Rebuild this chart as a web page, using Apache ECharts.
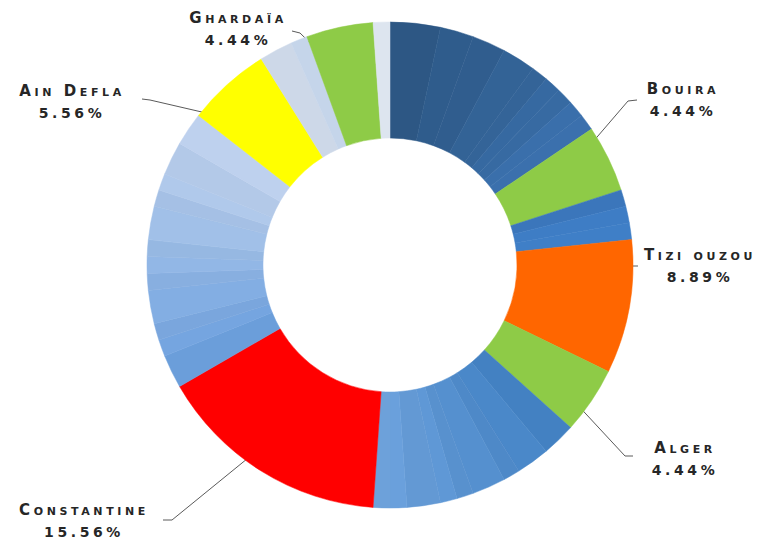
<!DOCTYPE html>
<html><head><meta charset="utf-8">
<script src="https://cdn.jsdelivr.net/npm/echarts@6/dist/echarts.min.js"></script>
<style>
html,body{margin:0;padding:0;background:#fff;}
#chart{width:760px;height:540px;}
#chart text{font-variant:small-caps !important;letter-spacing:3.6px !important;}
</style></head><body><div id="chart"></div>
<script>
// ---- data (clockwise from 12 o'clock) ----
const categories = [
  'Wilaya 01','Wilaya 02','Wilaya 03','Wilaya 04','Wilaya 05','Wilaya 06','Wilaya 07','Wilaya 08','Wilaya 09',
  'Bouira',
  'Wilaya 10','Wilaya 11','Wilaya 12',
  'Tizi ouzou',
  'Alger',
  'Wilaya 13','Wilaya 14','Wilaya 15','Wilaya 16','Wilaya 17','Wilaya 18','Wilaya 19','Wilaya 20','Wilaya 21',
  'Constantine',
  'Wilaya 22','Wilaya 23','Wilaya 24','Wilaya 25','Wilaya 26','Wilaya 27','Wilaya 28','Wilaya 29','Wilaya 30','Wilaya 31','Wilaya 32','Wilaya 33',
  'Ain Defla',
  'Wilaya 34','Wilaya 35',
  'Ghardaïa',
  'Wilaya 36'
];
const values = [
  3,2,2,2,1,1,1,1,1,
  4,
  1,1,1,
  8,
  4,
  2,2,1,2,1,1,2,1,1,
  14,
  2,1,1,2,1,1,1,2,1,1,2,2,
  5,
  2,1,
  4,
  1
];
const labelledNames = ['Ghardaïa','Bouira','Tizi ouzou','Alger','Constantine','Ain Defla'];

// ---- styling ----
const tones = [
  'dark','dark','dark','dark','dark','dark','dark','dark','dark',
  'green',
  'mid','mid','mid',
  'orange',
  'green',
  'bottom','bottom','bottom','bottom','bottom','bottom','bottom','bottom','bottom',
  'red',
  'left','left','left','left','left','left','left','left','left','left','left','left',
  'yellow',
  'pale','pale',
  'green',
  'white'
];
const toneRange = {
  dark:['#2d5885','#3b71ae'], mid:['#3b77bd','#4080c9'], bottom:['#4482c4','#6ea2dc'],
  left:['#6c9fdc','#bccfeb'], pale:['#cfdaea','#c3d2e7'], white:['#dde5ef','#dde5ef'],
  green:['#8ecb47','#8ecb47'], orange:['#ff6600','#ff6600'], red:['#ff0000','#ff0000'], yellow:['#ffff00','#ffff00']
};
const labelPlace = {
  'Ghardaïa':   {x:238, y:29,  pts:[[300,33],[292,31]]},
  'Bouira':     {x:683, y:100, pts:[[628,101],[637,100]]},
  'Tizi ouzou': {x:700, y:266, pts:[[632,266],[638,266]]},
  'Alger':      {x:685, y:459, pts:[[625,456],[633,456]]},
  'Constantine':{x:84,  y:521, pts:[[172,520],[163,520]]},
  'Ain Defla':  {x:72,  y:102, pts:[[150,100],[142,99]]}
};
const CX = 390, CY = 265, R0 = 127, R1 = 243, RA = 186;

function hex(c){return [1,3,5].map(i=>parseInt(c.substr(i,2),16));}
function mix(a,b,t,j){const A=hex(a),B=hex(b);return 'rgb('+A.map((v,i)=>Math.max(0,Math.min(255,Math.round((v+(B[i]-v)*t)*j)))).join(',')+')';}

const total = values.reduce((s,v)=>s+v,0);
const groupIdx = {}; tones.forEach((g,i)=>{(groupIdx[g]=groupIdx[g]||[]).push(i);});
const anchors = {};
let cum = 0;
const data = categories.map((name,i)=>{
  const g = tones[i], members = groupIdx[g], k = members.indexOf(i);
  const t = members.length>1 ? k/(members.length-1) : 0;
  const jitter = (g==='dark'||g==='mid'||g==='bottom'||g==='left'||g==='pale') ? (k%2? 1.012:0.992) : 1;
  const ang = (cum + values[i]/2)/total*2*Math.PI;
  anchors[name] = [CX + RA*Math.sin(ang), CY - RA*Math.cos(ang)];
  cum += values[i];
  const show = labelledNames.indexOf(name) >= 0;
  const c = mix(toneRange[g][0], toneRange[g][1], t, jitter);
  return {name, value: values[i], itemStyle:{color: c, borderColor: c, borderWidth: 0.5},
          label:{show}, labelLine:{show}};
});

const chart = echarts.init(document.getElementById('chart'), null, {renderer:'svg'});
chart.setOption({
  animation:false,
  backgroundColor:'#ffffff',
  series:[{
    type:'pie',
    center:[CX,CY],
    radius:[R0,R1],
    startAngle:90,
    clockwise:true,
    avoidLabelOverlap:false,
    emphasis:{disabled:true},
    data,
    label:{
      position:'outside',
      formatter:p=>'{n|'+p.name+'}\n{p|'+(p.value/total*100).toFixed(2)+'%}',
      rich:{
        n:{fontFamily:'DejaVu Sans', fontWeight:'bold', fontSize:15, lineHeight:22, color:'#262626', align:'center'},
        p:{fontFamily:'DejaVu Sans', fontWeight:'bold', fontSize:14, lineHeight:22, color:'#262626', align:'center'}
      },
      align:'center'
    },
    labelLine:{show:true, length:10, length2:10, lineStyle:{color:'#5a5a5a', width:1}},
    labelLayout:function(p){
      const name = categories[p.dataIndex];
      const pl = labelPlace[name];
      if(!pl) return {};
      return {x:pl.x, y:pl.y, align:'center', verticalAlign:'middle',
              labelLinePoints:[anchors[name], pl.pts[0], pl.pts[1]]};
    }
  }]
});
</script></body></html>
